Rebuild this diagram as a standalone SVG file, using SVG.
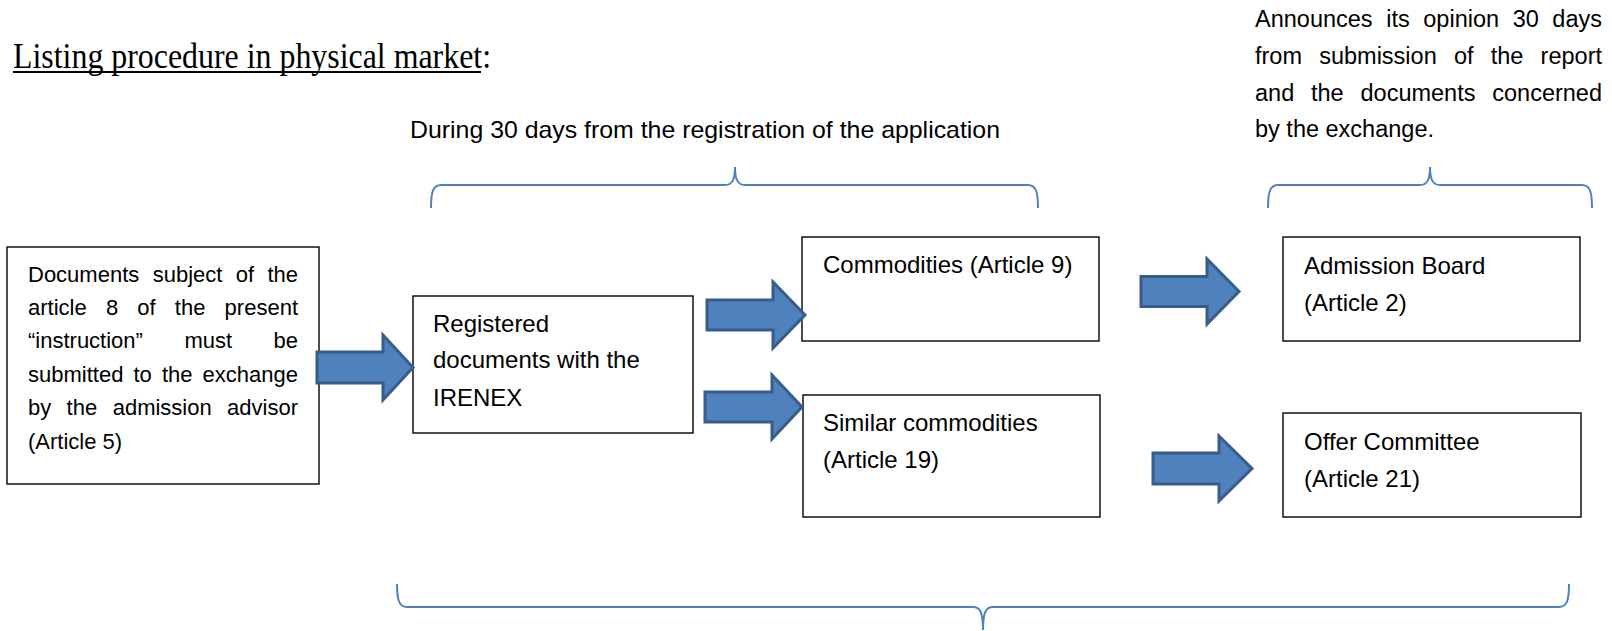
<svg xmlns="http://www.w3.org/2000/svg" width="1612" height="631" viewBox="0 0 1612 631">
<style>
.box{fill:#fff;stroke:#000;stroke-width:1.4}
.t{font-family:"Liberation Sans",Arial,sans-serif;fill:#000}
.t22{font-size:22px}
.t24{font-size:24px}
.t235{font-size:23.5px}
.arrow{fill:#4F81BD;stroke:#385D8A;stroke-width:3;stroke-linejoin:miter}
.brace{fill:none;stroke:#4F81BD;stroke-width:2}
</style>
<rect width="1612" height="631" fill="#fff"/>
<g id="title">
<text x="13" y="68" font-family="'Liberation Serif','Times New Roman',serif" font-size="35" fill="#000" textLength="478" lengthAdjust="spacingAndGlyphs">Listing procedure in physical market:</text>
<line x1="13" y1="72" x2="481" y2="72" stroke="#000" stroke-width="1.8"/>
</g>
<g id="label-during">
<text class="t t24" x="410" y="138" textLength="590" lengthAdjust="spacingAndGlyphs">During 30 days from the registration of the application</text>
</g>
<g id="label-announces" class="t t235">
<text y="27"><tspan x="1255">Announces</tspan><tspan x="1386.2">its</tspan><tspan x="1423.3">opinion</tspan><tspan x="1512.7">30</tspan></text>
<text y="27" x="1602" text-anchor="end">days</text>
<text y="64"><tspan x="1255">from</tspan><tspan x="1319.2">submission</tspan><tspan x="1453.9">of</tspan><tspan x="1490.7">the</tspan></text>
<text y="64" x="1602" text-anchor="end">report</text>
<text y="100.5"><tspan x="1255">and</tspan><tspan x="1311">the</tspan><tspan x="1360.5">documents</tspan></text>
<text y="100.5" x="1602" text-anchor="end">concerned</text>
<text y="137" x="1255">by the exchange.</text>
</g>
<g id="braces">
<path class="brace" d="M431,208 C431,192 433,185 441,185 L725,185 C732,185 735,180 735,167 C735,180 738,185 745,185 L1028,185 C1036,185 1038,192 1038,208"/>
<path class="brace" d="M1268,208 C1268,192 1270,185 1278,185 L1420,185 C1427,185 1430,180 1430,167 C1430,180 1433,185 1440,185 L1582,185 C1590,185 1592,192 1592,208"/>
<path class="brace" d="M397,584 C397,600 399,607 407,607 L973,607 C980,607 983,612 983,630 C983,612 986,607 993,607 L1559,607 C1567,607 1569,600 1569,584"/>
</g>
<g id="node-documents">
<rect class="box" x="7" y="247" width="312" height="237"/>
<g class="t t22">
<text y="282"><tspan x="28">Documents</tspan><tspan x="152.7">subject</tspan><tspan x="235.8">of</tspan></text>
<text y="282" x="298" text-anchor="end">the</text>
<text y="315"><tspan x="28">article</tspan><tspan x="105.9">8</tspan><tspan x="137.3">of</tspan><tspan x="174.8">the</tspan></text>
<text y="315" x="298" text-anchor="end">present</text>
<text y="348"><tspan x="28">“instruction”</tspan><tspan x="184.4">must</tspan></text>
<text y="348" x="298" text-anchor="end">be</text>
<text y="382"><tspan x="28">submitted</tspan><tspan x="133.5">to</tspan><tspan x="161.9">the</tspan></text>
<text y="382" x="298" text-anchor="end">exchange</text>
<text y="415"><tspan x="28">by</tspan><tspan x="66.6">the</tspan><tspan x="112.7">admission</tspan></text>
<text y="415" x="298" text-anchor="end">advisor</text>
<text y="449" x="28">(Article 5)</text>
</g>
</g>
<g id="node-registered">
<rect class="box" x="413" y="296" width="280" height="137"/>
<text class="t t24" x="433" y="332">Registered</text>
<text class="t t24" x="433" y="368">documents with the</text>
<text class="t t24" x="433" y="406">IRENEX</text>
</g>
<g id="node-commodities">
<rect class="box" x="802" y="237" width="297" height="104"/>
<text class="t t24" x="823" y="273">Commodities (Article 9)</text>
</g>
<g id="node-similar">
<rect class="box" x="803" y="395" width="297" height="122"/>
<text class="t t24" x="823" y="431">Similar commodities</text>
<text class="t t24" x="823" y="468">(Article 19)</text>
</g>
<g id="node-admission">
<rect class="box" x="1283" y="237" width="297" height="104"/>
<text class="t t24" x="1304" y="274">Admission Board</text>
<text class="t t24" x="1304" y="311">(Article 2)</text>
</g>
<g id="node-offer">
<rect class="box" x="1283" y="413" width="298" height="104"/>
<text class="t t24" x="1304" y="450">Offer Committee</text>
<text class="t t24" x="1304" y="487">(Article 21)</text>
</g>
<g id="connectors">
<polygon class="arrow" points="317,352 383,352 383,335 413,367.5 383,400 383,383 317,383"/>
<polygon class="arrow" points="707,300 773,300 773,282 805,315 773,348 773,330 707,330"/>
<polygon class="arrow" points="705,392 772,392 772,375 802,407 772,439 772,422 705,422"/>
<polygon class="arrow" points="1141,276.5 1207,276.5 1207,259 1239,291.5 1207,324 1207,306.5 1141,306.5"/>
<polygon class="arrow" points="1153,453 1219,453 1219,436 1252,468.5 1219,501 1219,484 1153,484"/>
</g>
</svg>
